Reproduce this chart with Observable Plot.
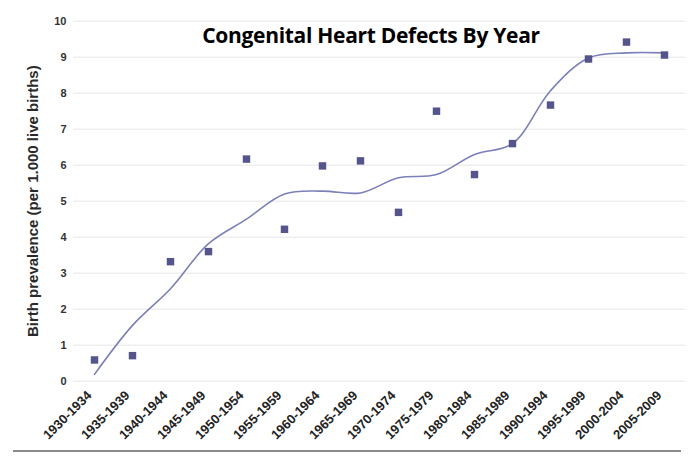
<!DOCTYPE html>
<html>
<head>
<meta charset="utf-8">
<script src="https://cdn.jsdelivr.net/npm/d3@7"></script>
<script src="https://cdn.jsdelivr.net/npm/@observablehq/plot@0.6"></script>
<style>
  body { margin: 0; background: #fff; }
  #wrap { position: relative; width: 700px; height: 457px; overflow: hidden; }
  #title { position: absolute; top: 21px; left: 371px; transform: translateX(-50%);
    font-family: "Open Sans", sans-serif; font-weight: 700; font-size: 21px; color: #000; white-space: nowrap; letter-spacing: -0.3px; }
  #baseline { position: absolute; left: 13px; width: 668px; top: 450px; height: 2px; background: #8a8a8a; }
</style>
</head>
<body>
<div id="wrap">
  <div id="chart"></div>
  <div id="title">Congenital Heart Defects By Year</div>
  <div id="baseline"></div>
</div>
<script>
const periods = ["1930-1934","1935-1939","1940-1944","1945-1949","1950-1954","1955-1959","1960-1964","1965-1969","1970-1974","1975-1979","1980-1984","1985-1989","1990-1994","1995-1999","2000-2004","2005-2009"];
const prevalence = [0.59, 0.71, 3.32, 3.6, 6.17, 4.22, 5.98, 6.12, 4.69, 7.5, 5.74, 6.6, 7.67, 8.95, 9.42, 9.06];
const trend = [0.19, 1.55, 2.57, 3.82, 4.5, 5.2, 5.28, 5.23, 5.65, 5.74, 6.3, 6.6, 8.07, 8.98, 9.12, 9.12];
const yTicks = [0,1,2,3,4,5,6,7,8,9,10];

const points = periods.map((p, i) => ({period: p, value: prevalence[i]}));
const line = periods.map((p, i) => ({period: p, value: trend[i]}));

const chart = Plot.plot({
  width: 700,
  height: 457,
  marginTop: 20.7,
  marginBottom: 76.3,
  marginLeft: 73,
  marginRight: 15,
  style: {fontFamily: "Liberation Sans, Arial, sans-serif", background: "#fff"},
  x: {type: "band", domain: periods, padding: 0},
  y: {domain: [0, 10]},
  marks: [
    Plot.gridY(yTicks, {stroke: "#e6e6e6", strokeOpacity: 1, strokeWidth: 1}),
    Plot.axisY(yTicks, {tickSize: 0, tickPadding: 7, fontWeight: "bold", fontSize: 11, fill: "#333",
      label: "Birth prevalence (per 1.000 live births)", labelAnchor: "center", labelArrow: "none", labelOffset: 46}),
    Plot.axisX({tickSize: 0, tickRotate: -45, tickPadding: 12, dx: -5, fontWeight: "bold", fontSize: 13, fill: "#222", label: null}),
    Plot.line(line, {x: "period", y: "value", curve: "catmull-rom", stroke: "#7c80b8", strokeWidth: 1.6}),
    Plot.dot(points, {x: "period", y: "value", symbol: "square", r: 4.2, fill: "#55558b", stroke: "none"})
  ]
});
document.getElementById("chart").append(chart);
const lbl = chart.querySelector('[aria-label="y-axis label"] text');
if (lbl) { lbl.setAttribute("font-size", "15"); lbl.setAttribute("font-weight", "bold"); lbl.setAttribute("fill", "#2a2a2a"); }
chart.querySelectorAll('[aria-label="x-axis tick label"] text').forEach(t => t.setAttribute("font-size", "13"));
</script>
</body>
</html>
